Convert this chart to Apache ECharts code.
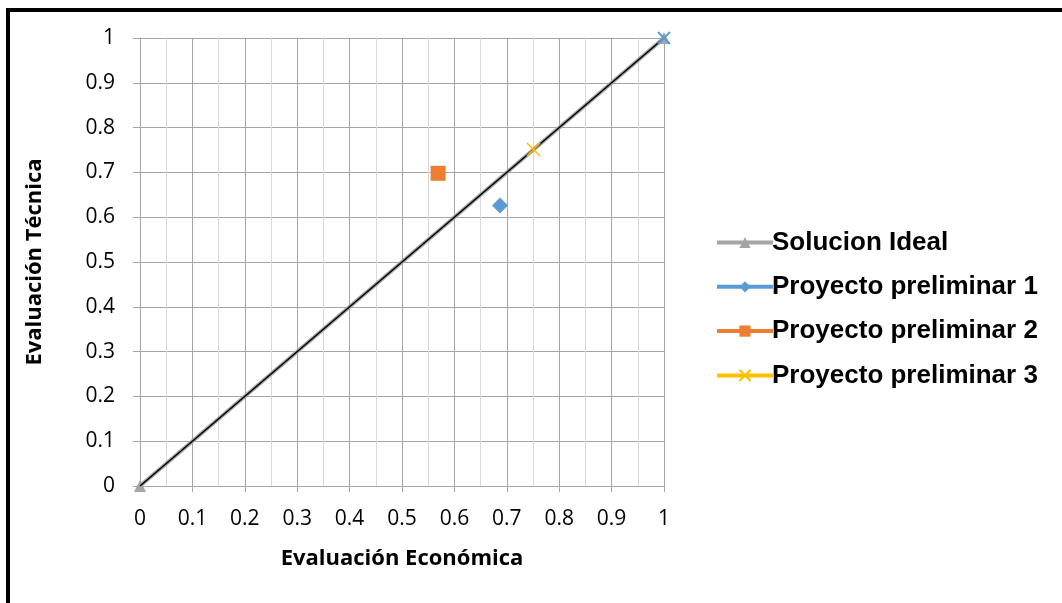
<!DOCTYPE html>
<html>
<head>
<meta charset="utf-8">
<script src="https://cdn.jsdelivr.net/npm/echarts@6/dist/echarts.min.js"></script>
<style>
html,body{margin:0;padding:0;background:#fff;}
#frame{position:absolute;left:6px;top:8px;width:1100px;height:650px;border-top:4px solid #000;border-left:4px solid #000;box-sizing:border-box;}
#c{position:absolute;left:0;top:0;width:1062px;height:603px;}
</style>
</head>
<body>
<div id="frame"></div>
<div id="c"></div>
<script>
var seriesNames = ['Solucion Ideal', 'Proyecto preliminar 1', 'Proyecto preliminar 2', 'Proyecto preliminar 3'];
var idealPoints = [[0, 0], [1, 1]];
var p1Points = [[0.687, 0.626]];
var p2Points = [[0.569, 0.698]];
var p3Points = [[0.751, 0.751]];
var extraPoint = [[1, 1]];
var tickLabels = ['0', '0.1', '0.2', '0.3', '0.4', '0.5', '0.6', '0.7', '0.8', '0.9', '1'];

var chart = echarts.init(document.getElementById('c'), null, {renderer: 'canvas'});
var labelFont = {color: '#000', fontFamily: 'Open Sans', fontSize: 21};
function fmt(v){ var i = Math.round(v * 10); return tickLabels[i]; }
var xPath = 'path://M0,0L10,10M10,0L0,10';
var titleFont = {color: '#000', fontFamily: 'Open Sans', fontWeight: 'bold', fontSize: 22};

chart.setOption({
  animation: false,
  grid: {left: 140, right: 398, top: 38, bottom: 117},
  xAxis: {
    type: 'value', min: 0, max: 1, interval: 0.1,
    name: 'Evaluación Económica', nameLocation: 'middle', nameGap: 62,
    nameTextStyle: titleFont,
    axisLine: {show: true, lineStyle: {color: '#a6a6a6', width: 1}},
    axisTick: {show: true, length: 6, lineStyle: {color: '#a6a6a6'}},
    axisLabel: Object.assign({margin: 23, formatter: fmt}, labelFont),
    splitLine: {show: true, lineStyle: {color: '#a6a6a6', width: 1}},
    minorTick: {show: false, splitNumber: 2},
    minorSplitLine: {show: true, lineStyle: {color: '#d9d9d9', width: 1}}
  },
  yAxis: {
    type: 'value', min: 0, max: 1, interval: 0.1,
    name: 'Evaluación Técnica', nameLocation: 'middle', nameGap: 94, nameRotate: 90,
    nameTextStyle: titleFont,
    axisLine: {show: true, lineStyle: {color: '#a6a6a6', width: 1}},
    axisTick: {show: true, length: 7, lineStyle: {color: '#a6a6a6'}},
    axisLabel: Object.assign({margin: 25, formatter: fmt}, labelFont),
    splitLine: {show: true, lineStyle: {color: '#a6a6a6', width: 1}}
  },
  legend: {
    orient: 'vertical', left: 710, top: 224, itemGap: 17.3, itemWidth: 56, itemHeight: 14,
    data: seriesNames,
    lineStyle: {width: 4},
    textStyle: {color: '#000', fontFamily: 'Liberation Sans', fontWeight: 'bold', fontSize: 26, lineHeight: 27, padding: [0, 0, 0, -6]}
  },
  series: [
    {name: seriesNames[0], type: 'line', data: idealPoints, symbol: 'triangle', symbolSize: 12,
     lineStyle: {color: '#a5a5a5', width: 4}, itemStyle: {color: '#a5a5a5'}, z: 2},
    {name: 'trend', type: 'line', data: idealPoints, symbol: 'none',
     lineStyle: {color: '#000', width: 1.5}, z: 3, legendHoverLink: false},
    {name: 'extra', type: 'line', data: extraPoint, symbol: xPath, symbolSize: 12,
     itemStyle: {color: '#5b9bd5', borderColor: '#5b9bd5', borderWidth: 2}, z: 4},
    {name: seriesNames[1], type: 'line', data: p1Points, symbol: 'diamond', symbolSize: 16,
     lineStyle: {color: '#5b9bd5', width: 4}, itemStyle: {color: '#5b9bd5'}, z: 5},
    {name: seriesNames[2], type: 'line', data: p2Points, symbol: 'rect', symbolSize: 15,
     lineStyle: {color: '#ed7d31', width: 4}, itemStyle: {color: '#ed7d31'}, z: 5},
    {name: seriesNames[3], type: 'line', data: p3Points, symbol: xPath, symbolSize: 13,
     lineStyle: {color: '#ffc000', width: 4}, itemStyle: {color: '#ffc000', borderColor: '#ffc000', borderWidth: 1.5}, z: 5}
  ]
});
</script>
</body>
</html>
